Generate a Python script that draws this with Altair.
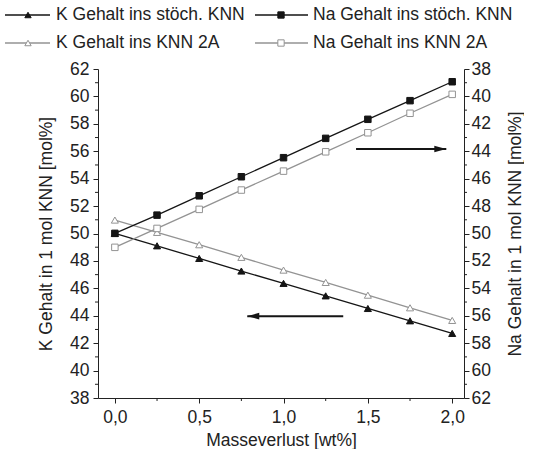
import altair as alt
import pandas as pd

# ---- data ----
x_vals = [0.0, 0.25, 0.5, 0.75, 1.0, 1.25, 1.5, 1.75, 2.0]
k_stoch = [50.01, 49.10, 48.18, 47.26, 46.36, 45.45, 44.53, 43.63, 42.71]
k_2a = [50.98, 50.08, 49.18, 48.26, 47.33, 46.43, 45.50, 44.58, 43.66]
na_stoch = [49.99, 48.66, 47.25, 45.86, 44.47, 43.06, 41.67, 40.31, 38.93]
na_2a = [51.01, 49.63, 48.24, 46.83, 45.45, 44.04, 42.65, 41.23, 39.85]

series_names = ["K Gehalt ins stöch. KNN", "K Gehalt ins KNN 2A",
                "Na Gehalt ins stöch. KNN", "Na Gehalt ins KNN 2A"]
x_ticks = [0.0, 0.5, 1.0, 1.5, 2.0]
x_minor = [0.25, 0.75, 1.25, 1.75]
y_ticks = list(range(38, 63, 2))
y_minor = list(range(39, 62, 2))

# arrows (data coords): start x, end x, y value
arrow_k = {"x_from": [1.354], "x_to": [0.785], "y": [43.97]}
arrow_na = {"x_from": [1.43], "x_to": [1.965], "y": [43.84]}

# ---- layout / style ----
line_colors = ["#151515", "#939393", "#151515", "#939393"]
fill_colors = ["#151515", "white", "#151515", "white"]
shapes = ["triangle-up", "triangle-up", "square", "square"]
FONT = "Liberation Sans"
W, H = 366, 329
X_DOM = [-0.1, 2.07]

# legend layout (pixels relative to plot origin)
leg_lx1 = [-93, -93, 157, 157]
leg_lx2 = [-48, -48, 210, 210]
leg_mx = [-70, -70, 183, 183]
leg_tx = [-42, -42, 215, 215]
leg_ly = [-54, -26, -54, -26]

dfK = pd.DataFrame({"x": x_vals * 2, "v": k_stoch + k_2a,
                    "s": [series_names[0]] * 9 + [series_names[1]] * 9})
dfNa = pd.DataFrame({"x": x_vals * 2, "v": na_stoch + na_2a,
                     "s": [series_names[2]] * 9 + [series_names[3]] * 9})
dfLeg = pd.DataFrame({"s": series_names, "lx1": leg_lx1, "lx2": leg_lx2,
                      "mx": leg_mx, "tx": leg_tx, "ly": leg_ly})


def xs():
    return alt.Scale(domain=X_DOM, nice=False, zero=False)


def ysK():
    return alt.Scale(domain=[38, 62], nice=False, zero=False)


def ysNa():
    return alt.Scale(domain=[38, 62], nice=False, zero=False, reverse=True)


color_scale = alt.Scale(domain=series_names, range=line_colors)
fill_scale = alt.Scale(domain=series_names, range=fill_colors)
shape_scale = alt.Scale(domain=series_names, range=shapes)

x_axis = alt.Axis(values=x_ticks, title="Masseverlust [wt%]",
                  labelExpr="replace(format(datum.value, '.1f'), '.', ',')",
                  labelPadding=5, titlePadding=6)
y_left = alt.Axis(values=y_ticks, title="K Gehalt in 1 mol KNN [mol%]",
                  orient="left", labelPadding=4, titlePadding=14)
y_right = alt.Axis(values=y_ticks, title="Na Gehalt in 1 mol KNN [mol%]",
                   orient="right", labelPadding=2, titlePadding=16,
                   titleAngle=270, titleBaseline="top")

lineK = alt.Chart(dfK).mark_line(strokeWidth=1.3).encode(
    x=alt.X("x:Q", scale=xs(), axis=x_axis),
    y=alt.Y("v:Q", scale=ysK(), axis=y_left),
    color=alt.Color("s:N", scale=color_scale, legend=None),
)
ptsK = alt.Chart(dfK).mark_point(filled=True, size=50, strokeWidth=1, opacity=1).encode(
    x=alt.X("x:Q", scale=xs(), axis=None),
    y=alt.Y("v:Q", scale=ysK(), axis=None),
    fill=alt.Fill("s:N", scale=fill_scale, legend=None),
    stroke=alt.Stroke("s:N", scale=color_scale, legend=None),
    shape=alt.Shape("s:N", scale=shape_scale, legend=None),
)
lineNa = alt.Chart(dfNa).mark_line(strokeWidth=1.3).encode(
    x=alt.X("x:Q", scale=xs(), axis=None),
    y=alt.Y("v:Q", scale=ysNa(), axis=y_right),
    color=alt.Color("s:N", scale=color_scale, legend=None),
)
ptsNa = alt.Chart(dfNa).mark_point(filled=True, size=42, strokeWidth=1, opacity=1).encode(
    x=alt.X("x:Q", scale=xs(), axis=None),
    y=alt.Y("v:Q", scale=ysNa(), axis=None),
    fill=alt.Fill("s:N", scale=fill_scale, legend=None),
    stroke=alt.Stroke("s:N", scale=color_scale, legend=None),
    shape=alt.Shape("s:N", scale=shape_scale, legend=None),
)

# minor ticks
minL = alt.Chart(pd.DataFrame({"v": y_minor})).mark_rule(color="#222", strokeWidth=1).encode(
    y=alt.Y("v:Q", scale=ysK(), axis=None), x=alt.value(-3), x2=alt.value(0))
minR = alt.Chart(pd.DataFrame({"v": y_minor})).mark_rule(color="#222", strokeWidth=1).encode(
    y=alt.Y("v:Q", scale=ysNa(), axis=None), x=alt.value(W), x2=alt.value(W + 3))
minX = alt.Chart(pd.DataFrame({"x": x_minor})).mark_rule(color="#222", strokeWidth=1).encode(
    x=alt.X("x:Q", scale=xs(), axis=None), y=alt.value(H), y2=alt.value(H + 3))

# arrows
arrK = pd.DataFrame(arrow_k)
arrNa = pd.DataFrame(arrow_na)
arrKline = alt.Chart(arrK).mark_rule(color="#151515", strokeWidth=2).encode(
    x=alt.X("x_from:Q", scale=xs(), axis=None), x2="x_to:Q",
    y=alt.Y("y:Q", scale=ysK(), axis=None))
arrKhead = alt.Chart(arrK).mark_point(filled=True, color="#151515", size=144, opacity=1,
                                      shape="M0,0L2,-0.55L2,0.55Z").encode(
    x=alt.X("x_to:Q", scale=xs(), axis=None),
    y=alt.Y("y:Q", scale=ysK(), axis=None))
arrNaline = alt.Chart(arrNa).mark_rule(color="#151515", strokeWidth=2).encode(
    x=alt.X("x_from:Q", scale=xs(), axis=None), x2="x_to:Q",
    y=alt.Y("y:Q", scale=ysNa(), axis=None))
arrNahead = alt.Chart(arrNa).mark_point(filled=True, color="#151515", size=144, opacity=1,
                                        shape="M0,0L-2,-0.55L-2,0.55Z").encode(
    x=alt.X("x_to:Q", scale=xs(), axis=None),
    y=alt.Y("y:Q", scale=ysNa(), axis=None))

# legend
legLine = alt.Chart(dfLeg).mark_rule(strokeWidth=1.3).encode(
    x=alt.X("lx1:Q", scale=None, axis=None), x2="lx2:Q",
    y=alt.Y("ly:Q", scale=None, axis=None),
    color=alt.Color("s:N", scale=color_scale, legend=None))
legPt = alt.Chart(dfLeg).mark_point(filled=True, size=40, strokeWidth=1, opacity=1).encode(
    x=alt.X("mx:Q", scale=None, axis=None),
    y=alt.Y("ly:Q", scale=None, axis=None),
    fill=alt.Fill("s:N", scale=fill_scale, legend=None),
    stroke=alt.Stroke("s:N", scale=color_scale, legend=None),
    shape=alt.Shape("s:N", scale=shape_scale, legend=None))
legTxt = alt.Chart(dfLeg).mark_text(align="left", baseline="middle", fontSize=17.5,
                                    font=FONT, color="#222").encode(
    x=alt.X("tx:Q", scale=None, axis=None),
    y=alt.Y("ly:Q", scale=None, axis=None),
    text="s:N")

chart = alt.layer(
    lineK, lineNa, ptsK, ptsNa, minL, minR, minX,
    arrKline, arrKhead, arrNaline, arrNahead,
    legLine, legPt, legTxt,
).resolve_scale(x="independent", y="independent").properties(
    width=W, height=H,
    padding={"left": 4, "top": 6, "right": 0, "bottom": 0},
).configure_view(stroke=None).configure_axis(
    labelFont=FONT, titleFont=FONT, labelFontSize=17.5, titleFontSize=17.5,
    titleFontWeight="normal", labelColor="#222", titleColor="#222",
    domainColor="#222", tickColor="#222", tickSize=5, grid=False,
)

chart.save("out.html", embed_options={"renderer": "svg", "actions": False})
